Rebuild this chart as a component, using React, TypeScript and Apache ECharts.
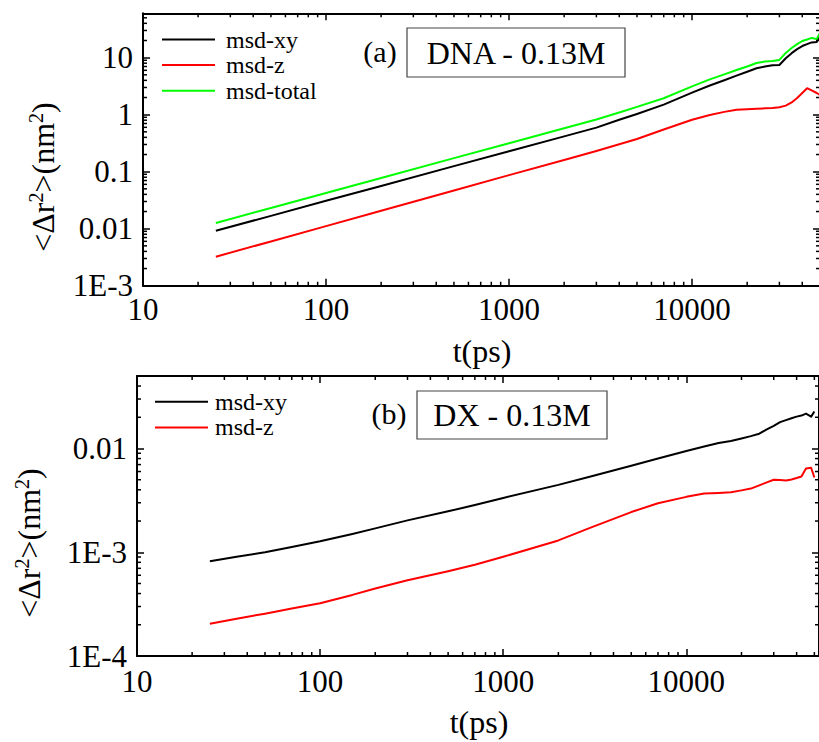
import React, { useEffect, useRef } from 'react';
import * as echarts from 'echarts';

// ---------- data ----------
const T_A = [25, 50, 100, 200, 500, 1000, 2000, 3000, 4000, 5000, 7000, 10000, 12500, 15000, 17500, 20000, 22500, 25000, 27500, 30000, 32500, 35000, 37500, 40000, 42500, 45000, 48000, 50000];
const XY_A = [0.0092, 0.0168, 0.0308, 0.0561, 0.125, 0.228, 0.416, 0.592, 0.815, 1.03, 1.5, 2.44, 3.25, 4.01, 4.83, 5.66, 6.52, 6.98, 7.36, 7.45, 9.76, 12.0, 14.1, 16.0, 17.3, 18.5, 18.9, 25.0];
const Z_A = [0.00323, 0.00598, 0.0111, 0.0206, 0.0468, 0.0869, 0.16, 0.231, 0.303, 0.375, 0.548, 0.815, 0.99, 1.12, 1.22, 1.25, 1.27, 1.29, 1.31, 1.35, 1.44, 1.64, 1.96, 2.4, 2.91, 2.66, 2.4, 2.22];
const TOTAL_A = [0.0126, 0.0231, 0.0423, 0.0775, 0.173, 0.316, 0.579, 0.824, 1.09, 1.37, 1.94, 3.14, 4.16, 5.09, 6.06, 7.01, 8.04, 8.57, 8.71, 9.12, 12.1, 14.8, 17.3, 19.6, 20.8, 22.2, 21.3, 27.1];

const T_B = [25, 35, 50, 70, 100, 150, 200, 300, 500, 700, 1000, 2000, 3000, 5000, 7000, 10000, 12500, 15000, 17500, 20000, 22500, 25000, 27500, 30000, 32500, 35000, 37500, 40000, 42500, 45000, 48000, 50000];
const XY_B = [0.000819, 0.000903, 0.001, 0.001125, 0.001276, 0.0015, 0.0017, 0.00203, 0.00248, 0.00285, 0.00334, 0.00446, 0.00538, 0.00682, 0.00801, 0.00948, 0.01045, 0.0113, 0.0118, 0.0125, 0.01316, 0.0139, 0.01527, 0.0165, 0.01794, 0.0188, 0.0196, 0.0203, 0.02076, 0.0217, 0.0203, 0.0227];
const Z_B = [0.000205, 0.000229, 0.000256, 0.000287, 0.000323, 0.000388, 0.000448, 0.000537, 0.000657, 0.000758, 0.000905, 0.0013, 0.00173, 0.00244, 0.00297, 0.00342, 0.00368, 0.00373, 0.00379, 0.00395, 0.00411, 0.00441, 0.00472, 0.005, 0.00497, 0.00492, 0.00503, 0.0052, 0.00538, 0.00642, 0.00652, 0.00526];

const X_TICKS = [10, 100, 1000, 10000];
const X_TICK_LABELS = ['10', '100', '1000', '10000'];
const Y_TICKS_A = [0.001, 0.01, 0.1, 1, 10];
const Y_TICK_LABELS_A = ['1E-3', '0.01', '0.1', '1', '10'];
const Y_TICKS_B = [0.0001, 0.001, 0.01];
const Y_TICK_LABELS_B = ['1E-4', '1E-3', '0.01'];
const MINOR_MULTS = [2, 3, 4, 5, 6, 7, 8, 9];

const SERIES_NAMES_A = ['msd-xy', 'msd-z', 'msd-total'];
const SERIES_NAMES_B = ['msd-xy', 'msd-z'];
const X_TITLE = 't(ps)';
const Y_TITLE_RICH = '<Δr{sup|2}>(nm{sup|2})';
const TAG_A = '(a)';
const TAG_B = '(b)';
const BOX_A = 'DNA - 0.13M';
const BOX_B = 'DX - 0.13M';

// axis ranges
const X_RANGE_A = [10, 50000];
const Y_RANGE_A = [0.001, 60];
const X_RANGE_B = [10, 53000];
const Y_RANGE_B = [0.0001, 0.05];

const FONT = "'Liberation Serif', 'Times New Roman', serif";
const BLACK = '#000000';
const RED = '#ff0000';
const GREEN = '#00ff00';

const makeFmt = (ticks: number[], labels: string[]) => (v: number) => {
  const i = ticks.findIndex((t) => Math.abs(Math.log10(v) - Math.log10(t)) < 1e-6);
  return i >= 0 ? labels[i] : '';
};

const minorValues = (min: number, max: number) => {
  const out: number[] = [];
  for (let e = Math.floor(Math.log10(min)); e <= Math.ceil(Math.log10(max)); e++) {
    for (const m of MINOR_MULTS) {
      const v = m * Math.pow(10, e);
      if (v > min * 1.0001 && v < max * 0.9999) out.push(v);
    }
  }
  return out;
};

const minorData = (xr: number[], yr: number[]) => [
  ...minorValues(xr[0], xr[1]).map((v) => [v, yr[0], 0]),
  ...minorValues(yr[0], yr[1]).map((v) => [xr[0], v, 1]),
];

const MINOR_LEN = 4;
const renderMinor = (params: any, api: any) => {
  const cs = params.coordSys;
  const kind = api.value(2);
  const p = api.coord([api.value(0), api.value(1)]);
  const st = { stroke: BLACK, lineWidth: 1.5 };
  if (kind === 0) {
    const x = p[0];
    return {
      type: 'group',
      children: [
        { type: 'line', shape: { x1: x, y1: cs.y + cs.height, x2: x, y2: cs.y + cs.height - MINOR_LEN }, style: st },
        { type: 'line', shape: { x1: x, y1: cs.y, x2: x, y2: cs.y + MINOR_LEN }, style: st },
      ],
    };
  }
  const y = p[1];
  return {
    type: 'group',
    children: [
      { type: 'line', shape: { x1: cs.x, y1: y, x2: cs.x + MINOR_LEN, y2: y }, style: st },
      { type: 'line', shape: { x1: cs.x + cs.width, y1: y, x2: cs.x + cs.width - MINOR_LEN, y2: y }, style: st },
    ],
  };
};

const axisLine = { show: true, onZero: false, lineStyle: { color: BLACK, width: 2 } };
const majorTick = { show: true, inside: true, length: 7, lineStyle: { color: BLACK, width: 1.5 } };
const labelStyle = { fontFamily: FONT, fontSize: 31, color: BLACK };

const xAxisPair = (grid: number, range: number[], fmt: any, margin: number) => [
  {
    type: 'log', gridIndex: grid, min: range[0], max: range[1], position: 'bottom',
    axisLine, axisTick: majorTick, splitLine: { show: false }, minorTick: { show: false },
    axisLabel: { ...labelStyle, formatter: fmt, margin },
  },
  {
    type: 'log', gridIndex: grid, min: range[0], max: range[1], position: 'top',
    axisLine, axisTick: majorTick, splitLine: { show: false }, axisLabel: { show: false },
  },
];

const yAxisPair = (grid: number, range: number[], fmt: any) => [
  {
    type: 'log', gridIndex: grid, min: range[0], max: range[1], position: 'left',
    axisLine, axisTick: majorTick, splitLine: { show: false }, minorTick: { show: false },
    axisLabel: { ...labelStyle, formatter: fmt, margin: 10 },
  },
  {
    type: 'log', gridIndex: grid, min: range[0], max: range[1], position: 'right',
    axisLine, axisTick: majorTick, splitLine: { show: false }, axisLabel: { show: false },
  },
];

const lineSeries = (name: string, xs: number[], ys: number[], color: string, axisIdx: number) => ({
  type: 'line', name, xAxisIndex: axisIdx, yAxisIndex: axisIdx,
  data: xs.map((t, i) => [t, ys[i]]),
  symbol: 'none', showSymbol: false, smooth: false,
  lineStyle: { color, width: 2, join: 'round' }, itemStyle: { color }, z: 3,
});

const legendCfg = (names: string[], left: number, top: number, padLeft: number) => ({
  data: names, orient: 'vertical', left, top, padding: 0,
  itemWidth: 53, itemHeight: 32, itemGap: 0, selectedMode: false,
  itemStyle: { opacity: 0 },
  textStyle: { fontFamily: FONT, fontSize: 24, color: BLACK, padding: [8, 0, 0, padLeft] },
});

const textEl = (text: string, x: number, y: number, size: number, rotation = 0) => ({
  type: 'text', x, y, rotation,
  style: { text, fontFamily: FONT, fontSize: size, fill: BLACK, align: 'center', verticalAlign: 'middle' },
});

const yTitleEl = (x: number, y: number) => ({
  type: 'text', x, y, rotation: Math.PI / 2,
  style: {
    text: Y_TITLE_RICH, fontFamily: FONT, fontSize: 32, fill: BLACK, align: 'center', verticalAlign: 'middle',
    rich: {
      sup: { fontFamily: FONT, fontSize: 20, fill: BLACK, verticalAlign: 'top', lineHeight: 34 },
    },
  },
});

const boxEl = (x: number, y: number, w: number, h: number) => ({
  type: 'rect', shape: { x, y, width: w, height: h },
  style: { fill: '#ffffff', stroke: '#444444', lineWidth: 1.2 },
});

const option: any = {
  animation: false,
  backgroundColor: '#ffffff',
  textStyle: { fontFamily: FONT },
  grid: [
    { left: 143, top: 13.3, width: 677, height: 272.4, outerBoundsMode: 'none', containLabel: false },
    { left: 137, top: 376, width: 682, height: 280, outerBoundsMode: 'none', containLabel: false },
  ],
  xAxis: [
    ...xAxisPair(0, X_RANGE_A, makeFmt(X_TICKS, X_TICK_LABELS), 8),
    ...xAxisPair(1, X_RANGE_B, makeFmt(X_TICKS, X_TICK_LABELS), 10),
  ],
  yAxis: [
    ...yAxisPair(0, Y_RANGE_A, makeFmt(Y_TICKS_A, Y_TICK_LABELS_A)),
    ...yAxisPair(1, Y_RANGE_B, makeFmt(Y_TICKS_B, Y_TICK_LABELS_B)),
  ],
  legend: [
    legendCfg(SERIES_NAMES_A, 161, 26.7, 6),
    legendCfg(SERIES_NAMES_B, 154, 389, 2),
  ],
  series: [
    lineSeries(SERIES_NAMES_A[0], T_A, XY_A, BLACK, 0),
    lineSeries(SERIES_NAMES_A[1], T_A, Z_A, RED, 0),
    lineSeries(SERIES_NAMES_A[2], T_A, TOTAL_A, GREEN, 0),
    lineSeries(SERIES_NAMES_B[0], T_B, XY_B, BLACK, 2),
    lineSeries(SERIES_NAMES_B[1], T_B, Z_B, RED, 2),
    {
      type: 'custom', name: 'minor-a', xAxisIndex: 0, yAxisIndex: 0, silent: true, z: 4,
      encode: { x: 0, y: 1 }, renderItem: renderMinor, data: minorData(X_RANGE_A, Y_RANGE_A),
    },
    {
      type: 'custom', name: 'minor-b', xAxisIndex: 2, yAxisIndex: 2, silent: true, z: 4,
      encode: { x: 0, y: 1 }, renderItem: renderMinor, data: minorData(X_RANGE_B, Y_RANGE_B),
    },
  ],
  graphic: [
    yTitleEl(43, 177),
    yTitleEl(29, 543),
    textEl(X_TITLE, 482, 351, 32),
    textEl(X_TITLE, 479, 722, 32),
    textEl(TAG_A, 380, 51, 30),
    textEl(TAG_B, 389, 413, 30),
    boxEl(407, 28, 218, 49),
    textEl(BOX_A, 516, 52.5, 32),
    boxEl(417, 391, 190, 48),
    textEl(BOX_B, 512, 415, 32),
  ],
};

export default function App() {
  const ref = useRef<HTMLDivElement>(null);
  useEffect(() => {
    if (!ref.current) return;
    const chart = echarts.init(ref.current, null, { renderer: 'svg' });
    chart.setOption(option);
    return () => chart.dispose();
  }, []);
  return <div ref={ref} style={{ position: 'absolute', left: 0, top: 0, width: 819, height: 742 }} />;
}
